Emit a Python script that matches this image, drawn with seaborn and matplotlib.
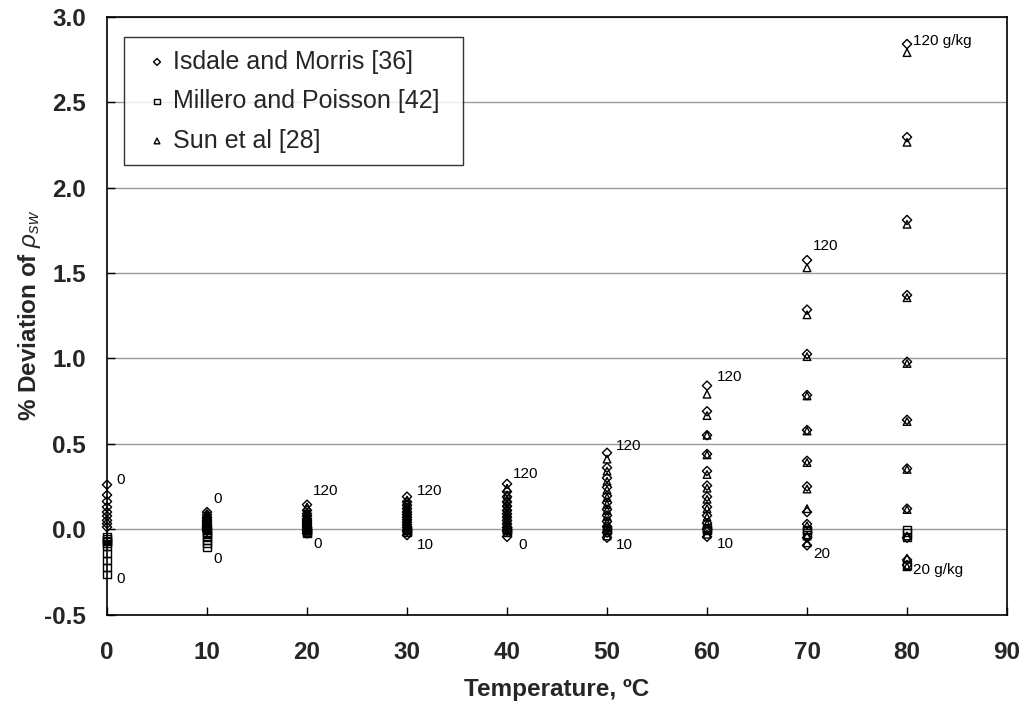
import numpy as np
import pandas as pd
import matplotlib
matplotlib.use("Agg")
import matplotlib.pyplot as plt
import seaborn as sns

# ---- data (deviation % of seawater density) ----
temperatures = [0, 10, 20, 30, 40, 50, 60, 70, 80]

isdale = {
    0: [0.26, 0.20, 0.162, 0.129, 0.10, 0.077, 0.051, 0.032, 0.012],
    10: [0.10, 0.085, 0.07, 0.06, 0.05, 0.04, 0.03, 0.02, 0.015, 0.01, 0.005, 0.0, -0.01],
    20: [0.143, 0.11, 0.09, 0.075, 0.06, 0.05, 0.04, 0.03, 0.02, 0.01, 0.0, -0.01, -0.025],
    30: [0.19, 0.16, 0.14, 0.12, 0.10, 0.085, 0.07, 0.055, 0.04, 0.025, 0.01, -0.01, -0.035],
    40: [0.265, 0.22, 0.19, 0.16, 0.135, 0.11, 0.09, 0.07, 0.05, 0.03, 0.01, -0.01, -0.045],
    50: [0.447, 0.36, 0.30, 0.245, 0.195, 0.155, 0.115, 0.08, 0.045, 0.015, -0.02, -0.05],
    60: [0.84, 0.69, 0.55, 0.44, 0.34, 0.255, 0.19, 0.13, 0.08, 0.035, 0.0, -0.045],
    70: [1.575, 1.285, 1.025, 0.785, 0.58, 0.40, 0.25, 0.10, 0.03, -0.05, -0.095],
    80: [2.84, 2.295, 1.81, 1.37, 0.98, 0.64, 0.355, 0.12, -0.05, -0.18, -0.21],
}

millero = {
    0: [-0.046, -0.055, -0.065, -0.075, -0.085, -0.10, -0.144, -0.183, -0.222, -0.266],
    10: [-0.008, -0.02, -0.03, -0.046, -0.065, -0.085, -0.11],
    20: [0.0, -0.01, -0.02, -0.025],
    30: [0.0, -0.01, -0.02],
    40: [0.0, -0.01, -0.02],
    50: [0.0, -0.01],
    60: [0.01, 0.0, -0.01],
    70: [0.0, -0.01, -0.03],
    80: [0.0, -0.02, -0.05, -0.21],
}

sun = {
    10: [0.09, 0.075, 0.06, 0.05, 0.04, 0.03, 0.02, 0.01, 0.0],
    20: [0.13, 0.10, 0.08, 0.065, 0.05, 0.04, 0.03, 0.02, 0.01, 0.0, -0.01],
    30: [0.17, 0.15, 0.13, 0.11, 0.09, 0.075, 0.06, 0.045, 0.03, 0.015, 0.0, -0.02],
    40: [0.24, 0.20, 0.175, 0.15, 0.125, 0.10, 0.08, 0.06, 0.04, 0.02, 0.0, -0.02],
    50: [0.41, 0.34, 0.28, 0.23, 0.185, 0.145, 0.11, 0.075, 0.04, 0.01, -0.02, -0.04],
    60: [0.79, 0.665, 0.55, 0.435, 0.32, 0.24, 0.175, 0.12, 0.07, 0.03, 0.0, -0.03],
    70: [1.53, 1.255, 1.01, 0.78, 0.575, 0.39, 0.235, 0.12, 0.02, -0.04, -0.08],
    80: [2.79, 2.265, 1.785, 1.355, 0.97, 0.63, 0.35, 0.115, -0.04, -0.17, -0.22],
}

series_names = ["Isdale and Morris [36]", "Millero and Poisson [42]", "Sun et al [28]"]

# salinity annotations, one upper and one lower label per temperature
upper_text = ["0", "0", "120", "120", "120", "120", "120", "120", "120 g/kg"]
upper_x = [0.9, 10.6, 20.6, 31.0, 40.6, 50.9, 61.0, 70.6, 80.6]
upper_y = [0.29, 0.178, 0.223, 0.226, 0.324, 0.487, 0.89, 1.656, 2.855]
lower_text = ["0", "0", "0", "10", "0", "10", "10", "20", "20 g/kg"]
lower_x = [0.9, 10.6, 20.6, 31.0, 41.1, 50.9, 61.0, 70.6, 80.6]
lower_y = [-0.29, -0.173, -0.089, -0.095, -0.095, -0.095, -0.085, -0.145, -0.24]

x_ticks = [0, 10, 20, 30, 40, 50, 60, 70, 80, 90]
y_ticks = [-0.5, 0.0, 0.5, 1.0, 1.5, 2.0, 2.5, 3.0]


def to_frame(d, name):
    rows = []
    for t, vals in d.items():
        for v in vals:
            rows.append((t, v, name))
    return pd.DataFrame(rows, columns=["Temperature", "Deviation", "Source"])


df_isd = to_frame(isdale, series_names[0])
df_mil = to_frame(millero, series_names[1])
df_sun = to_frame(sun, series_names[2])

sns.set_theme(style="white")
plt.rcParams["font.family"] = ["Liberation Sans", "DejaVu Sans"]
plt.rcParams["mathtext.fontset"] = "custom"
plt.rcParams["mathtext.it"] = "Liberation Sans:italic"
plt.rcParams["mathtext.rm"] = "Liberation Sans"

fig = plt.figure(figsize=(10.26, 7.08), dpi=100)
ax = fig.add_axes([0.1043, 0.132, 0.8772, 0.8444])

common = dict(facecolor="none", edgecolor="black", linewidth=1.0, ax=ax, zorder=3,
              clip_on=False)
sns.scatterplot(data=df_isd, x="Temperature", y="Deviation", marker="D", s=22,
                label=series_names[0], **common)
sns.scatterplot(data=df_mil, x="Temperature", y="Deviation", marker="s", s=26,
                label=series_names[1], **common)
sns.scatterplot(data=df_sun, x="Temperature", y="Deviation", marker="^", s=30,
                label=series_names[2], **common)

for t, xx, yy in zip(upper_text + lower_text, upper_x + lower_x, upper_y + lower_y):
    ax.text(xx, yy, t, fontsize=11, color="black", ha="left", va="center", zorder=4)

ax.set_xlim(0, 90)
ax.set_ylim(-0.5, 3.0)
ax.set_xticks(x_ticks)
ax.set_yticks(y_ticks)
ax.set_xticklabels([str(v) for v in x_ticks])
ax.set_yticklabels([f"{v:.1f}" for v in y_ticks])
for lab in ax.get_xticklabels() + ax.get_yticklabels():
    lab.set_fontweight("bold")
    lab.set_fontsize(17.5)

ax.yaxis.grid(True, color="#9a9a9a", linewidth=1.0)
ax.xaxis.grid(False)
ax.set_axisbelow(True)
ax.tick_params(axis="x", direction="in", length=6, width=1, color="black", pad=19, bottom=True)
ax.tick_params(axis="y", direction="in", length=6, width=1, color="black", pad=15, left=True)
for sp in ax.spines.values():
    sp.set_color("black")
    sp.set_linewidth(1.2)

ax.set_xlabel("Temperature, ºC", fontsize=17.5, fontweight="bold", labelpad=10)
ax.set_ylabel(r"% Deviation of $\rho_{sw}$", fontsize=17.5, fontweight="bold", labelpad=1)

# legend box: x 124..463 px, top 37 px (in a 1026x708 figure)
ax_w_px = 900.0
ax_h_px = 597.8
lx0 = (124 - 107) / ax_w_px
lw = (463 - 124) / ax_w_px
ltop = 1 - (37 - 16.7) / ax_h_px
leg = ax.legend(loc="upper left", bbox_to_anchor=(lx0, ltop - 0.2, lw, 0.2), mode="expand",
                borderaxespad=0, fontsize=18, frameon=True, fancybox=False,
                edgecolor="black", markerscale=0.75, handletextpad=-0.2,
                labelspacing=0.62, borderpad=0.5, handlelength=1.64)
leg.get_frame().set_linewidth(1.0)

fig.savefig("out.png", dpi=100)
